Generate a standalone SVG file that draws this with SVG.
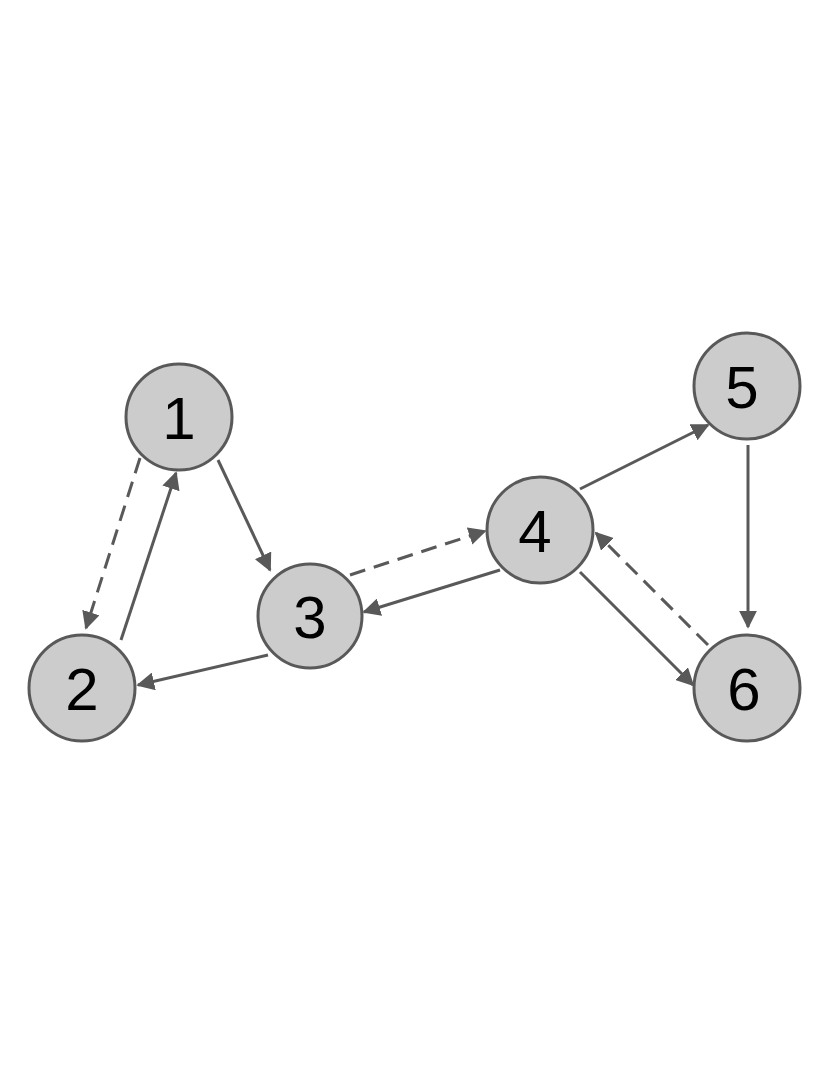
<svg xmlns="http://www.w3.org/2000/svg" width="830" height="1075" viewBox="0 0 830 1075">
<style>
.n{fill:#cccccc;stroke:#595959;stroke-width:3}
.t{font-family:"Liberation Sans",Arial,sans-serif;font-size:60px;fill:#000;text-anchor:middle}
.e{stroke:#595959;stroke-width:3;fill:none;marker-end:url(#a)}
.d{stroke-dasharray:16,9}
</style>
<defs><marker id="a" viewBox="0 0 10 10" refX="9" refY="5" markerWidth="6" markerHeight="6" orient="auto" markerUnits="strokeWidth"><path d="M0,0L10,5L0,10z" fill="#595959"/></marker></defs>
<rect width="830" height="1075" fill="#fff"/>
<g id="edges">
<line class="e d" x1="140" y1="458" x2="86" y2="628"/>
<line class="e" x1="121" y1="640" x2="176" y2="473"/>
<line class="e" x1="268" y1="655" x2="138" y2="685"/>
<line class="e" x1="218" y1="460" x2="270" y2="570"/>
<line class="e d" x1="350" y1="575" x2="485" y2="531"/>
<line class="e" x1="500" y1="570" x2="364" y2="612"/>
<line class="e" x1="580" y1="489" x2="708" y2="425"/>
<line class="e" x1="748" y1="445" x2="748" y2="627"/>
<line class="e" x1="580" y1="572" x2="693" y2="685"/>
<line class="e d" x1="708" y1="645" x2="596" y2="533"/>
</g>
<g id="n1"><circle class="n" cx="179" cy="417" r="53"/><text class="t" x="179" y="439">1</text></g>
<g id="n2"><circle class="n" cx="82" cy="688" r="53"/><text class="t" x="82" y="710">2</text></g>
<g id="n3"><circle class="n" cx="310" cy="616" r="52"/><text class="t" x="310" y="638">3</text></g>
<g id="n4"><circle class="n" cx="540" cy="530" r="53"/><text class="t" x="535" y="552">4</text></g>
<g id="n5"><circle class="n" cx="747" cy="386" r="53"/><text class="t" x="742" y="408">5</text></g>
<g id="n6"><circle class="n" cx="747" cy="688" r="53"/><text class="t" x="744" y="710">6</text></g>
</svg>
